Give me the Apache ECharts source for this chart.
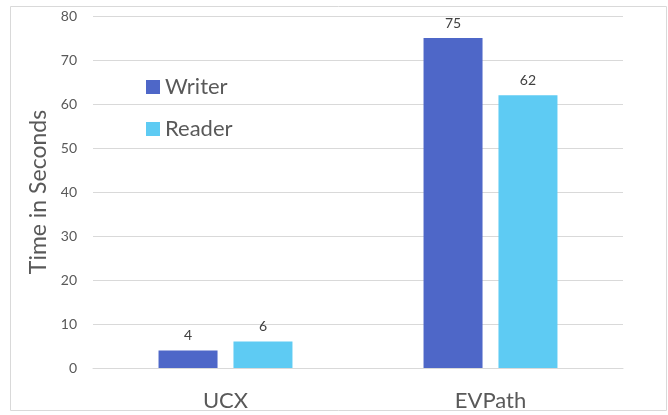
<!DOCTYPE html>
<html>
<head>
<meta charset="utf-8">
<script src="https://cdn.jsdelivr.net/npm/echarts@6/dist/echarts.min.js"></script>
<style>
  html, body { margin: 0; padding: 0; background: #fff; }
  #chart { width: 668px; height: 415px; }
</style>
</head>
<body>
<div id="chart"></div>
<script>
// chart data
const categories = ['UCX', 'EVPath']
const writerTimes = [4, 75]
const readerTimes = [6, 62]
const seriesNames = ['Writer', 'Reader']

const chart = echarts.init(document.getElementById('chart'))
const textColor = '#595959'
const fontFamily = 'Lato, "Open Sans", sans-serif'

chart.setOption({
  animation: false,
  textStyle: { fontFamily: fontFamily },
  graphic: [
    {
      type: 'rect',
      shape: { x: 10.5, y: 6.5, width: 656, height: 404 },
      style: { fill: 'none', stroke: '#d9d9d9', lineWidth: 1 },
      silent: true
    }
  ],
  legend: {
    data: seriesNames,
    orient: 'vertical',
    left: 141,
    top: 71,
    itemWidth: 14,
    itemHeight: 14,
    itemGap: 20,
    icon: 'rect',
    textStyle: { fontSize: 22, color: textColor, fontFamily: fontFamily }
  },
  grid: {
    left: 93,
    right: 45,
    top: 16,
    bottom: 47
  },
  xAxis: {
    type: 'category',
    data: categories,
    axisLine: { show: true, lineStyle: { color: '#d9d9d9' } },
    axisTick: { show: false },
    axisLabel: { fontSize: 22, color: textColor, margin: 22 }
  },
  yAxis: {
    type: 'value',
    min: 0,
    max: 80,
    interval: 10,
    name: 'Time in Seconds',
    nameLocation: 'middle',
    nameGap: 40,
    nameTextStyle: { fontSize: 23, color: textColor },
    axisLine: { show: false },
    axisTick: { show: false },
    axisLabel: { fontSize: 14, color: textColor, margin: 16 },
    splitLine: { lineStyle: { color: '#d9d9d9', width: 1 } }
  },
  series: [
    {
      name: seriesNames[0],
      type: 'bar',
      data: writerTimes,
      barWidth: 59,
      barGap: '27%',
      itemStyle: { color: '#4e67c8' },
      label: { show: true, position: 'top', fontSize: 14, color: '#404040', distance: 8 }
    },
    {
      name: seriesNames[1],
      type: 'bar',
      data: readerTimes,
      barWidth: 59,
      itemStyle: { color: '#5ecbf3' },
      label: { show: true, position: 'top', fontSize: 14, color: '#404040', distance: 8 }
    }
  ]
})
</script>
</body>
</html>
